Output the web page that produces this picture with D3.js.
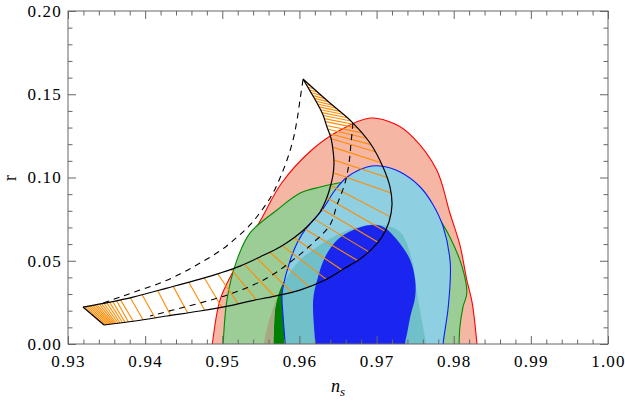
<!DOCTYPE html>
<html><head><meta charset="utf-8">
<script src="https://cdn.jsdelivr.net/npm/d3@7/dist/d3.min.js"></script>
<style>body{margin:0;background:#fff}svg{display:block}
.tk text{font-family:"Liberation Serif","Times New Roman",serif;font-size:17px;letter-spacing:1.2px;fill:#000}
.lab{font-family:"Liberation Serif","Times New Roman",serif}
</style>
</head><body>
<svg id="chart" width="625" height="404"></svg>
<script>
// ---- data (ns, r) ----
const xDomain = [0.93, 1.00];
const yDomain = [0, 0.20];
const xTickLabels = [0.93, 0.94, 0.95, 0.96, 0.97, 0.98, 0.99, 1.00];
const yTickLabels = [0.00, 0.05, 0.10, 0.15, 0.20];

const red95 = [[0.9485,-0.006],[0.9487,0],[0.9497,0.0264],[0.9517,0.0462],[0.9552,0.0763],[0.9577,0.0967],[0.9616,0.1165],[0.9653,0.1285],[0.9692,0.1357],[0.9724,0.1321],[0.9747,0.1243],[0.9778,0.1045],[0.9795,0.0787],[0.9808,0.0595],[0.9817,0.0384],[0.9824,0.0246],[0.9830,0.0006],[0.9831,-0.006]];
const green95 = [[0.9500,-0.006],[0.9501,0],[0.9506,0.0264],[0.9519,0.0505],[0.9536,0.0667],[0.9571,0.0805],[0.9601,0.0907],[0.9627,0.0943],[0.9659,0.0973],[0.9698,0.0985],[0.9737,0.0967],[0.9763,0.0895],[0.9776,0.0793],[0.9795,0.0643],[0.9811,0.0462],[0.9817,0.0306],[0.9812,0.0222],[0.9808,0.0102],[0.9807,0],[0.9807,-0.006]];
const green68 = [[0.95657,-0.006],[0.95670,0.0096],[0.95683,0.0204],[0.95748,0.0324],[0.95839,0.0402],[0.96007,0.0505],[0.96228,0.0583],[0.96461,0.0649],[0.96720,0.0697],[0.97044,0.0715],[0.97304,0.0673],[0.97459,0.0505],[0.97524,0.0306],[0.97563,0.0204],[0.97667,-0.006]];
const khaki = [[0.95515,-0.006],[0.9558,0.0096],[0.95644,0.0192],[0.95696,0.0264],[0.95683,0.0204],[0.95670,0.0096],[0.95657,-0.006]];
const blue95 = [[0.9582,-0.006],[0.95815,0],[0.95789,0.0162],[0.95776,0.0306],[0.95853,0.0462],[0.9597,0.0607],[0.9610,0.0703],[0.96294,0.0805],[0.96463,0.0925],[0.96619,0.1003],[0.96878,0.1063],[0.97047,0.1069],[0.97306,0.1033],[0.97566,0.0943],[0.97734,0.0835],[0.97864,0.0703],[0.97955,0.0486],[0.97929,0.0222],[0.97864,0.0006],[0.9786,-0.006]];
const blue68 = [[0.9621,-0.006],[0.96204,0.0006],[0.96178,0.0264],[0.9623,0.0384],[0.96333,0.0523],[0.96489,0.0625],[0.96696,0.0685],[0.96917,0.0715],[0.97086,0.0703],[0.97267,0.0625],[0.97436,0.0505],[0.9750,0.0384],[0.9750,0.0282],[0.97436,0.0162],[0.97397,0.0066],[0.97371,0.0006],[0.9737,-0.006]];

const bandUpper = [[0.96046,0.1592],[0.96137,0.1520],[0.96228,0.1447],[0.96306,0.1375],[0.96357,0.1303],[0.96409,0.1237],[0.96435,0.1165],[0.96448,0.1087],[0.96435,0.1015],[0.96396,0.0937],[0.96344,0.0865],[0.96267,0.0793],[0.96111,0.0709],[0.95943,0.0643],[0.95748,0.0583],[0.95489,0.0523],[0.9523,0.0468],[0.9497,0.0426],[0.94711,0.0390],[0.94283,0.0336],[0.93843,0.0282],[0.93544,0.0252],[0.93194,0.0222]];
const bandLower = [[0.96046,0.1592],[0.96396,0.1447],[0.96682,0.1333],[0.96915,0.1207],[0.97083,0.1063],[0.97174,0.0943],[0.9720,0.0835],[0.97161,0.0733],[0.9707,0.0643],[0.96941,0.0571],[0.96785,0.0511],[0.96591,0.0456],[0.96332,0.0384],[0.96007,0.0324],[0.95683,0.0288],[0.95359,0.0258],[0.95139,0.0234],[0.94711,0.0198],[0.94283,0.0168],[0.93869,0.0138],[0.93467,0.0114]];
const dashedOuter = [[0.96046,0.1586],[0.96007,0.1465],[0.95969,0.1345],[0.95917,0.1225],[0.95839,0.1105],[0.95748,0.0997],[0.95644,0.0895],[0.95515,0.0805],[0.95359,0.0715],[0.95165,0.0631],[0.9497,0.0559],[0.94711,0.0486],[0.94452,0.0420],[0.94193,0.0366],[0.93933,0.0324],[0.93674,0.0282],[0.93454,0.0246]];
const dashedInner = [[0.96694,0.1327],[0.96669,0.1207],[0.96643,0.1087],[0.96591,0.0967],[0.96487,0.0835],[0.96396,0.0715],[0.96176,0.0607],[0.95917,0.0505],[0.9558,0.0396],[0.95139,0.0306],[0.94711,0.0246],[0.94361,0.0204],[0.94063,0.0168]];

// hatch lines: fraction along upper edge -> fraction along lower edge
const hatchUpper = [0.008,0.016,0.024,0.032,0.04,0.048,0.056,0.064,0.072,0.08,0.088,0.096,0.104,0.112,0.12,0.13,0.14,0.152,0.165,
  0.186,0.218,0.25,0.282,0.314,0.345,0.376,0.41,0.445,0.48,0.515,0.55,0.585,0.62,0.655,0.69,0.73,0.77,0.81,0.85,0.88,0.905,
  0.915,0.925,0.933,0.94,0.947,0.953,0.959,0.965,0.97,0.975,0.98,0.985,0.99,0.995];
const hatchLower = [0.01,0.02,0.03,0.04,0.05,0.06,0.07,0.08,0.09,0.10,0.11,0.12,0.13,0.14,0.15,0.163,0.177,0.193,0.21,
  0.235,0.2675,0.30,0.349,0.38,0.407,0.434,0.463,0.50,0.537,0.575,0.612,0.649,0.686,0.724,0.758,0.793,0.828,0.863,0.895,0.92,0.94,
  0.95,0.957,0.962,0.967,0.971,0.975,0.978,0.981,0.984,0.987,0.99,0.993,0.996,0.999];

// ---- drawing ----
const svg = d3.select('#chart');
const L = 68, R = 608, T = 11, B = 344;
const x = d3.scaleLinear().domain(xDomain).range([L, R]);
const y = d3.scaleLinear().domain(yDomain).range([B, T]);
const smooth = d3.line().x(d=>x(d[0])).y(d=>y(d[1])).curve(d3.curveCatmullRom.alpha(0.5));
const closed = d => smooth(d) + 'Z';

const defs = svg.append('defs');
defs.append('clipPath').attr('id','plotclip')
  .append('rect').attr('x',L).attr('y',T).attr('width',R-L).attr('height',B-T);
defs.append('clipPath').attr('id','blueclip').append('path').attr('d', closed(blue95));

const g = svg.append('g').attr('clip-path','url(#plotclip)');

g.append('path').attr('d', closed(red95)).attr('fill','#f5b6a4').attr('stroke','#ff0000').attr('stroke-width',1.1);
g.append('path').attr('d', closed(green95)).attr('fill','#9ccd97').attr('stroke','#008a00').attr('stroke-width',1.1);
g.append('path').attr('d', closed(green68)).attr('fill','#008000');
g.append('path').attr('d', closed(blue95)).attr('fill','#8ecfe1');
g.append('g').attr('clip-path','url(#blueclip)').append('path').attr('d', closed(green68)).attr('fill','#6fc0c9');
g.append('path').attr('d', closed(blue95)).attr('fill','none').attr('stroke','#0a1cff').attr('stroke-width',1.1);
g.append('path').attr('d', closed(khaki)).attr('fill','#a7a985');
g.append('path').attr('d', closed(blue68)).attr('fill','#1a25ef');

// band
const up = g.append('path').attr('d', smooth(bandUpper)).attr('fill','none');
const lo = g.append('path').attr('d', smooth(bandLower)).attr('fill','none');
const upN = up.node(), loN = lo.node();
const upLen = upN.getTotalLength(), loLen = loN.getTotalLength();
const hatch = hatchUpper.map((a,i)=>{
  const p = upN.getPointAtLength(a*upLen), q = loN.getPointAtLength(hatchLower[i]*loLen);
  return [p,q];
});
g.append('g').selectAll('line').data(hatch).join('line')
  .attr('x1',d=>d[0].x).attr('y1',d=>d[0].y).attr('x2',d=>d[1].x).attr('y2',d=>d[1].y)
  .attr('stroke','#ff8c00').attr('stroke-width',1.1);
up.raise().attr('stroke','#000').attr('stroke-width',1.2);
lo.raise().attr('stroke','#000').attr('stroke-width',1.2);
g.append('path').attr('d', d3.line().x(d=>x(d[0])).y(d=>y(d[1]))([bandUpper[bandUpper.length-1], bandLower[bandLower.length-1]]))
  .attr('stroke','#000').attr('stroke-width',1.2).attr('fill','none');
g.append('path').attr('d', smooth(dashedOuter)).attr('fill','none').attr('stroke','#000').attr('stroke-width',1.1).attr('stroke-dasharray','6,5');
g.append('path').attr('d', smooth(dashedInner)).attr('fill','none').attr('stroke','#000').attr('stroke-width',1.1).attr('stroke-dasharray','6,5');

// ---- axes ----
const fmt = d3.format('.2f');
const xMinor = d3.range(0, 36).map(i => 0.93 + i*0.002).filter(v => Math.abs(v*100 - Math.round(v*100)) > 1e-6);
const yMinor = d3.range(0, 21).map(i => i*0.01).filter(v => Math.abs(v*20 - Math.round(v*20)) > 1e-6);
const axisCol = '#666';
function style(sel){
  sel.attr('class','tk').attr('font-family',null).attr('font-size',null);
  sel.select('.domain').remove(); sel.selectAll('line').attr('stroke',axisCol);
}

svg.append('g').attr('transform',`translate(0,${B})`).call(d3.axisBottom(x).tickValues(xTickLabels).tickFormat(fmt).tickSize(-8).tickPadding(11)).call(style);
svg.append('g').attr('transform',`translate(0,${B})`).call(d3.axisBottom(x).tickValues(xMinor).tickFormat('').tickSize(-4.5)).call(style);
svg.append('g').attr('transform',`translate(0,${T})`).call(d3.axisTop(x).tickValues(xTickLabels).tickFormat('').tickSize(-8)).call(style);
svg.append('g').attr('transform',`translate(0,${T})`).call(d3.axisTop(x).tickValues(xMinor).tickFormat('').tickSize(-4.5)).call(style);
svg.append('g').attr('transform',`translate(${L},0)`).call(d3.axisLeft(y).tickValues(yTickLabels).tickFormat(fmt).tickSize(-8).tickPadding(6)).call(style);
svg.append('g').attr('transform',`translate(${L},0)`).call(d3.axisLeft(y).tickValues(yMinor).tickFormat('').tickSize(-4.5)).call(style);
svg.append('g').attr('transform',`translate(${R},0)`).call(d3.axisRight(y).tickValues(yTickLabels).tickFormat('').tickSize(-8)).call(style);
svg.append('g').attr('transform',`translate(${R},0)`).call(d3.axisRight(y).tickValues(yMinor).tickFormat('').tickSize(-4.5)).call(style);

svg.append('rect').attr('x',L).attr('y',T).attr('width',R-L).attr('height',B-T).attr('fill','none').attr('stroke',axisCol).attr('stroke-width',1);

// labels
const xl = svg.append('text').attr('class','lab').attr('x',(L+R)/2).attr('y',392).attr('text-anchor','middle').attr('font-size',18).attr('font-style','italic');
xl.append('tspan').text('n');
xl.append('tspan').attr('font-size',13).attr('dy',4).text('s');
svg.append('text').attr('class','lab').attr('transform','translate(16,178) rotate(-90)').attr('text-anchor','middle').attr('font-size',18).text('r');
</script>
</body></html>
